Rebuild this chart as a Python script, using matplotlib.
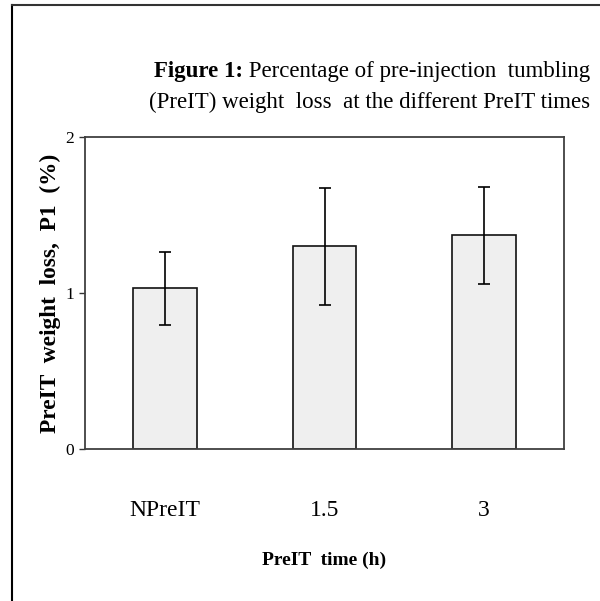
import matplotlib.pyplot as plt
from matplotlib.lines import Line2D

# Weight loss by pre-injection tumbling time
categories = ["NPreIT", "1.5", "3"]
weight_loss = [1.03, 1.30, 1.37]
errors = [0.235, 0.375, 0.31]

plt.rcParams['font.family'] = ['Liberation Serif', 'DejaVu Serif']

W, H = 600, 601
fig = plt.figure(figsize=(6.0, 6.01), dpi=100)

# axes placed in pixel coords
left, right, top, bottom = 85, 564, 137, 449
ax = fig.add_axes([left / W, 1 - bottom / H, (right - left) / W, (bottom - top) / H])

xpos = [0.5, 1.5, 2.5]
ax.bar(xpos, weight_loss, width=0.4, color="#efefef", edgecolor="#111111", linewidth=1.2, zorder=2)
ax.errorbar(xpos, weight_loss, yerr=errors, fmt="none", ecolor="black", elinewidth=1.2,
            capsize=4, capthick=1.2, zorder=3)

ax.set_xlim(0, 3)
ax.set_ylim(0, 2)
ax.set_yticks([0, 1, 2])
ax.set_yticklabels(["0", "1", "2"], fontsize=12.5)
ax.tick_params(axis="y", length=4, width=1, pad=4, color="#333333")
ax.set_xticks(xpos)
ax.set_xticklabels(categories, fontsize=17)
ax.tick_params(axis="x", length=0, pad=37)
for s in ax.spines.values():
    s.set_color("#404040")
    s.set_linewidth(1.3)

ax.set_xlabel("PreIT  time (h)", fontsize=14, fontweight="bold", labelpad=22)
ax.set_ylabel("PreIT  weight  loss,  P1  (%)", fontsize=16.8, fontweight="bold", labelpad=3)

# title block, right-aligned above the plot; bold lead-in placed left of line 1
t1 = fig.text(590 / W, 1 - 77 / H, " Percentage of pre-injection  tumbling",
              ha="right", va="baseline", fontsize=16.5)
fig.text(590 / W, 1 - 108 / H, "(PreIT) weight  loss  at the different PreIT times",
         ha="right", va="baseline", fontsize=16.5)
renderer = fig.canvas.get_renderer()
x0 = t1.get_window_extent(renderer).x0
fig.text(x0 / W, 1 - 77 / H, "Figure 1:", ha="right", va="baseline",
         fontsize=16.5, fontweight="bold")

# outer frame (left and top edges)
fig.add_artist(Line2D([12 / W, 12 / W], [0, 1 - 5 / H], transform=fig.transFigure, color="black", lw=1.5))
fig.add_artist(Line2D([12 / W, 1], [1 - 5 / H, 1 - 5 / H], transform=fig.transFigure, color="#333333", lw=1.5))

fig.savefig("out.png", dpi=100)
